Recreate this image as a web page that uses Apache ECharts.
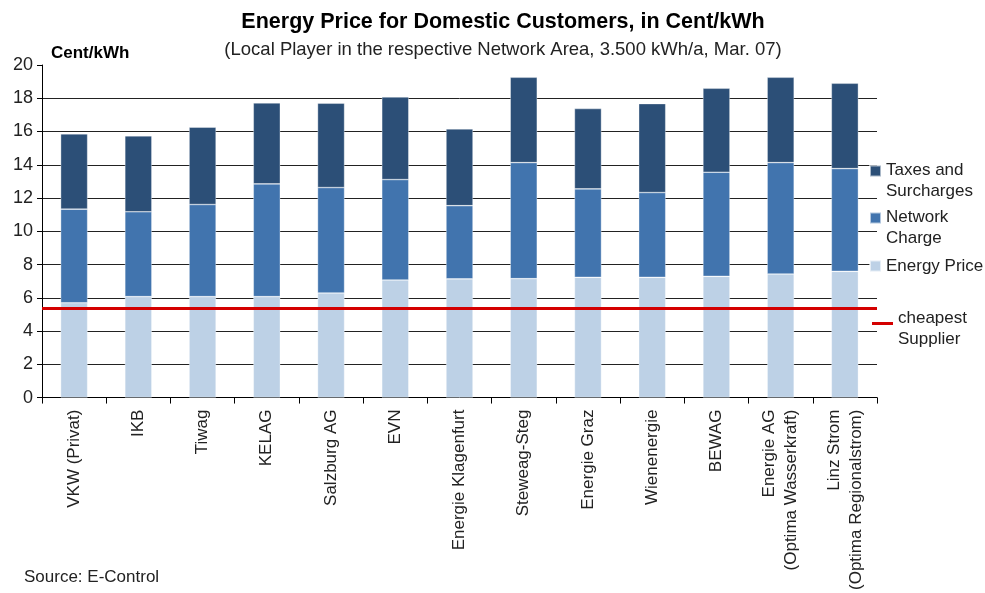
<!DOCTYPE html>
<html>
<head>
<meta charset="utf-8">
<script src="https://cdn.jsdelivr.net/npm/echarts@6/dist/echarts.min.js"></script>
<style>html,body{margin:0;padding:0;background:#fff;}#chart{width:985px;height:593px;}</style>
</head>
<body>
<div id="chart"></div>
<script>
var categories = ['VKW (Privat)', 'IKB', 'Tiwag', 'KELAG', 'Salzburg AG', 'EVN', 'Energie Klagenfurt', 'Steweag-Steg', 'Energie Graz', 'Wienenergie', 'BEWAG', 'Energie AG\n(Optima Wasserkraft)', 'Linz Strom\n(Optima Regionalstrom)'];
var energyPrice = [5.70, 6.07, 6.07, 6.07, 6.29, 7.07, 7.14, 7.15, 7.23, 7.23, 7.29, 7.43, 7.59];
var networkCharge = [5.63, 5.10, 5.54, 6.78, 6.34, 6.04, 4.40, 6.98, 5.32, 5.10, 6.26, 6.70, 6.18];
var taxesSurcharges = [4.53, 4.57, 4.65, 4.87, 5.07, 4.97, 4.62, 5.13, 4.83, 5.35, 5.05, 5.13, 5.13];
var cheapestSupplier = 5.35;
var yTicks = [0, 2, 4, 6, 8, 10, 12, 14, 16, 18, 20];

var font = 'Liberation Sans, Arial, sans-serif';
var chart = echarts.init(document.getElementById('chart'));
var barStyle = function (c) { return { color: c, borderColor: 'rgba(255,255,255,0.6)', borderWidth: 0.6 }; };
var iconTop = 'path://M0,0L10,0L10,10L0,10Z M0,28L0.01,28';
var lineTop = 'path://M0,0L21,0L21,3L0,3Z M0,14L0.01,14';
var legendText = { fontFamily: font, fontSize: 17, color: '#222', lineHeight: 20.5 };
chart.setOption({
  animation: false,
  textStyle: { fontFamily: font },
  title: [{
    text: 'Energy Price for Domestic Customers, in Cent/kWh',
    left: 498, top: 6, textAlign: 'center',
    textStyle: { fontFamily: font, fontSize: 21.5, fontWeight: 'bold', color: '#000' }
  }, {
    text: '(Local Player in the respective Network Area, 3.500 kWh/a, Mar. 07)',
    left: 498, top: 35, textAlign: 'center',
    textStyle: { fontFamily: font, fontSize: 18.5, fontWeight: 'normal', color: '#222' }
  }, {
    text: 'Source: E-Control',
    left: 19, top: 564,
    textStyle: { fontFamily: font, fontSize: 17, fontWeight: 'normal', color: '#222' }
  }],
  legend: [{
    data: ['Taxes and Surcharges'], left: 869, top: 160.5, orient: 'vertical', padding: 0,
    itemWidth: 11, itemHeight: 31, icon: iconTop, itemGap: 0,
    formatter: function () { return 'Taxes and\nSurcharges'; },
    textStyle: legendText
  }, {
    data: ['Network Charge'], left: 869, top: 207.5, orient: 'vertical', padding: 0,
    itemWidth: 11, itemHeight: 31, icon: iconTop, itemGap: 0,
    formatter: function () { return 'Network\nCharge'; },
    textStyle: legendText
  }, {
    data: ['Energy Price'], left: 869, top: 256, orient: 'vertical', padding: 0,
    itemWidth: 11, itemHeight: 11, icon: 'rect', itemGap: 0,
    textStyle: { fontFamily: font, fontSize: 17, color: '#222', lineHeight: 20 }
  }, {
    data: ['cheapest Supplier'], left: 872, top: 308, orient: 'vertical', padding: 0,
    itemWidth: 21, itemHeight: 15, icon: lineTop, itemGap: 0,
    formatter: function () { return 'cheapest\nSupplier'; },
    textStyle: { fontFamily: font, fontSize: 17, color: '#222', lineHeight: 21 }
  }],
  grid: { left: 42, right: 108, top: 65, bottom: 195, containLabel: false },
  xAxis: {
    type: 'category', data: categories,
    axisLine: { lineStyle: { color: '#000', width: 1 } },
    axisTick: { show: true, alignWithLabel: false, length: 6, lineStyle: { color: '#000' } },
    axisLabel: { rotate: 90, interval: 0, margin: 12, fontFamily: font, fontSize: 17, color: '#222', lineHeight: 22 }
  },
  yAxis: {
    type: 'value', min: yTicks[0], max: yTicks[yTicks.length - 1], interval: 2,
    name: 'Cent/kWh', nameLocation: 'end', nameGap: 3,
    nameTextStyle: { fontFamily: font, fontSize: 17, fontWeight: 'bold', color: '#000', align: 'left', padding: [0, 0, 0, 9] },
    axisLine: { show: true, lineStyle: { color: '#000', width: 1 } },
    axisTick: { show: true, inside: false, length: 5, lineStyle: { color: '#000' } },
    axisLabel: { fontFamily: font, fontSize: 18, color: '#222', margin: 9 },
    splitLine: {
      show: true,
      lineStyle: { color: ['transparent', '#222', '#222', '#222', '#222', '#222', '#222', '#222', '#222', '#222', 'transparent'], width: 1 }
    }
  },
  series: [{
    name: 'Energy Price', type: 'bar', stack: 'total', barWidth: 27,
    itemStyle: barStyle('#bdd1e6'), data: energyPrice
  }, {
    name: 'Network Charge', type: 'bar', stack: 'total', barWidth: 27,
    itemStyle: barStyle('#4174ae'), data: networkCharge
  }, {
    name: 'Taxes and Surcharges', type: 'bar', stack: 'total', barWidth: 27,
    itemStyle: barStyle('#2c4f77'), data: taxesSurcharges
  }, {
    name: 'cheapest Supplier', type: 'line', data: [],
    itemStyle: { color: '#d40000' },
    lineStyle: { color: '#d40000', width: 3 },
    markLine: {
      silent: true, symbol: 'none', label: { show: false },
      lineStyle: { color: '#d40000', width: 3, type: 'solid' },
      data: [{ yAxis: cheapestSupplier }]
    }
  }]
});
</script>
</body>
</html>
